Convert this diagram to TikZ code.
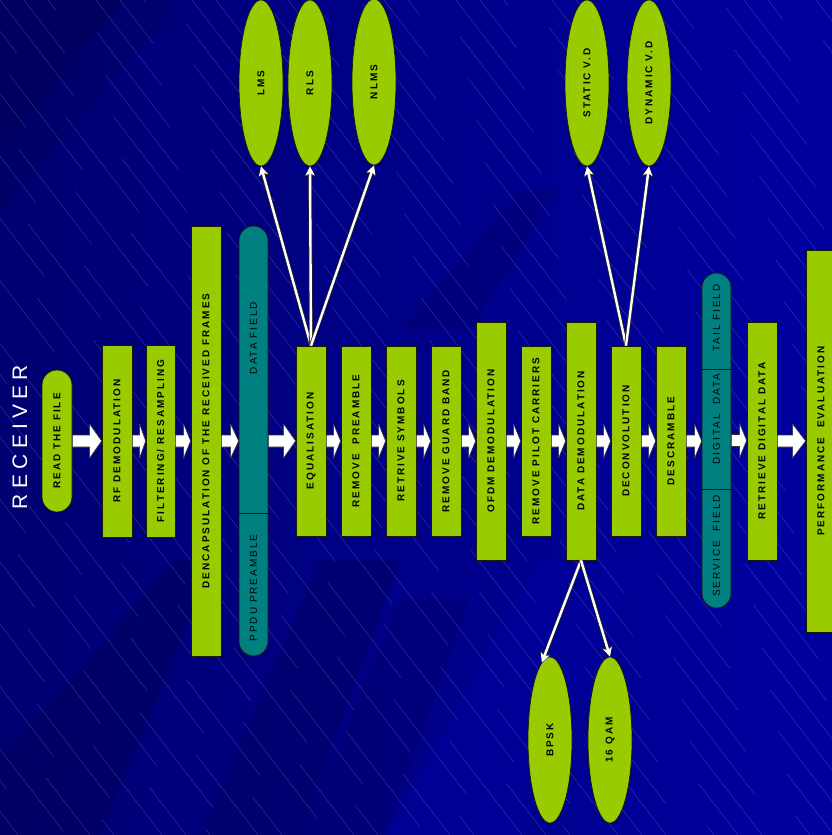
\documentclass[tikz,border=0pt]{standalone}
\usepackage{graphicx}
\usepackage{fontspec}
\setmainfont{Liberation Sans}
\newfontfamily\lsp[LetterSpace=20]{Liberation Sans}
\newfontfamily\lspbig[LetterSpace=25]{Liberation Sans}
\usetikzlibrary{shapes.geometric,arrows.meta,calc}
\definecolor{bgbase}{HTML}{000084}
\definecolor{bgdark}{HTML}{00005C}
\definecolor{bglight}{HTML}{0000A4}
\definecolor{bgline}{HTML}{8C96D2}
\definecolor{lgreen}{HTML}{99CC00}
\definecolor{tealc}{HTML}{008080}
\definecolor{edge}{HTML}{1A1A00}
\tikzset{
  x=1pt, y=-1pt,
  lbl/.style={font=\lsp\bfseries\fontsize{10}{12}\selectfont, text=black},
  box/.style={draw=edge, line width=0.7pt, fill=lgreen, inner sep=0pt, minimum width=30pt, lbl},
  pill/.style={box, rounded corners=15pt},
  tealpill/.style={draw=edge, line width=0.7pt, fill=tealc, inner sep=0pt, minimum width=29pt, rounded corners=14.5pt},
  teallbl/.style={font=\lsp\fontsize{10}{12}\selectfont, text=black, inner sep=0pt},
  ell/.style={ellipse, draw=edge, line width=0.7pt, fill=lgreen, inner sep=0pt, minimum width=44pt, minimum height=166pt, lbl},
  blockarrow/.style={fill=white, draw=black!80, line width=0.6pt, line join=miter},
  conn/.style={draw=white, line width=2.4pt, -{Stealth[length=9pt,width=9pt,inset=2pt]},
    preaction={draw=black!85, line width=4pt, -{Stealth[length=10.5pt,width=11.5pt,inset=2pt]}}},
  bgl/.style={draw=bgline, line width=0.45pt, opacity=0.35}
}
\newcommand\blockarr[3]{%
  \draw[blockarrow] let \p1=(#1.east), \p2=(#2.west) in
   (\x1,\y1+6) -- (\x2-#3,\y1+6) -- (\x2-#3,\y1+17) -- (\x2,\y1) --
   (\x2-#3,\y1-17) -- (\x2-#3,\y1-6) -- (\x1,\y1-6) -- cycle;}
\begin{document}
\begin{tikzpicture}
\clip (0,0) rectangle (832,835);
% ---------- background ----------
\fill[bgbase] (0,0) rectangle (832,835);
\shade[left color=bgdark!50!bgbase, right color=bglight, opacity=0.9] (0,0) rectangle (832,835);
\fill[bgdark, opacity=0.8] (0,0) -- (125,0) -- (0,150) -- cycle;
\fill[bgdark, opacity=0.35] (125,0) -- (180,0) -- (0,215) -- (0,150) -- cycle;
\fill[bgdark, opacity=0.55] (0,835) -- (100,835) -- (215,560) -- (175,560) -- (0,760) -- cycle;
\fill[bgdark, opacity=0.45] (200,835) -- (300,835) -- (400,560) -- (320,560) -- cycle;
\fill[bgdark, opacity=0.3] (300,835) -- (385,835) -- (470,600) -- (400,600) -- cycle;
\fill[bgdark, opacity=0.3] (400,330) -- (470,330) -- (560,190) -- (520,190) -- cycle;
\fill[bglight, opacity=0.4] (385,835) -- (520,835) -- (640,560) -- (540,560) -- cycle;
\foreach \i in {-28,...,35} {
  \pgfmathsetmacro\ph{mod(abs(\i*53),200)}
  \draw[bgl, dash pattern=on 120pt off 80pt, dash phase=\ph pt] (\i*24,0) -- ++(642,835);
}
% ---------- title ----------
\node[text=white, inner sep=0pt, font=\lspbig\fontsize{21}{24}\selectfont] (title) at (20,437) {\rotatebox{90}{RECEIVER}};
% ---------- main chain ----------
\node[pill, minimum height=142pt] (read) at (57,441) {\rotatebox{90}{READ THE FILE}};
\node[box, minimum height=192pt] (rf) at (117,441) {\rotatebox{90}{RF DEMODULATION}};
\node[box, minimum width=29pt, minimum height=192pt] (filt) at (160.5,441) {\rotatebox{90}{FILTERING/ RESAMPLING}};
\node[box, minimum height=430pt] (dencap) at (206,441) {\rotatebox{90}{DENCAPSULATION OF THE RECEIVED FRAMES}};
\node[tealpill, minimum height=430pt] (teal1) at (253.5,441) {};
\draw[draw=edge, line width=0.7pt] (teal1.west |- 0,513) coordinate (t1a) -- (teal1.east |- 0,513) coordinate (t1b);
\node[teallbl] (datafield) at (253.5,338) {\rotatebox{90}{DATA FIELD}};
\node[teallbl] (ppdu) at (253.5,588) {\rotatebox{90}{PPDU PREAMBLE}};
\node[box, minimum height=190pt] (equ) at (311,441) {\rotatebox{90}{EQUALISATION}};
\node[box, minimum height=190pt] (rmpre) at (356,441) {\rotatebox{90}{REMOVE\ \ PREAMBLE}};
\node[box, minimum height=190pt] (retr) at (401,441) {\rotatebox{90}{RETRIVE SYMBOLS}};
\node[box, minimum height=190pt] (rmgb) at (446,441) {\rotatebox{90}{REMOVE GUARD BAND}};
\node[box, minimum height=238pt] (ofdm) at (491,441) {\rotatebox{90}{OFDM DEMODULATION}};
\node[box, minimum height=190pt] (rmpil) at (536,441) {\rotatebox{90}{REMOVE PILOT CARRIERS}};
\node[box, minimum height=238pt] (ddemod) at (581,441) {\rotatebox{90}{DATA DEMODULATION}};
\node[box, minimum height=190pt] (deconv) at (626,441) {\rotatebox{90}{DECONVOLUTION}};
\node[box, minimum height=190pt] (descr) at (671,441) {\rotatebox{90}{DESCRAMBLE}};
\node[tealpill, minimum height=335pt] (teal2) at (716.5,440.5) {};
\draw[draw=edge, line width=0.7pt] (teal2.west |- 0,369) coordinate (t2a) -- (teal2.east |- 0,369) coordinate (t2b);
\draw[draw=edge, line width=0.7pt] (teal2.west |- 0,489) coordinate (t2c) -- (teal2.east |- 0,489) coordinate (t2d);
\node[teallbl] (tail) at (716.5,318) {\rotatebox{90}{TAIL FIELD}};
\node[teallbl] (digdata) at (716.5,419) {\rotatebox{90}{DIGITAL\ \ DATA}};
\node[teallbl] (service) at (716.5,546) {\rotatebox{90}{SERVICE\ \ FIELD}};
\node[box, minimum height=238pt] (retdig) at (762,441) {\rotatebox{90}{RETRIEVE DIGITAL DATA}};
\node[box, minimum height=382pt] (perf) at (821,441) {\rotatebox{90}{PERFORMANCE\ \ EVALUATION}};
% ---------- block arrows ----------
\blockarr{read}{rf}{12}
\blockarr{rf}{filt}{6}
\blockarr{filt}{dencap}{7}
\blockarr{dencap}{teal1}{8}
\blockarr{teal1}{equ}{12}
\blockarr{equ}{rmpre}{7}
\blockarr{rmpre}{retr}{7}
\blockarr{retr}{rmgb}{7}
\blockarr{rmgb}{ofdm}{7}
\blockarr{ofdm}{rmpil}{7}
\blockarr{rmpil}{ddemod}{7}
\blockarr{ddemod}{deconv}{7}
\blockarr{deconv}{descr}{7}
\blockarr{descr}{teal2}{7}
\blockarr{teal2}{retdig}{7}
\blockarr{retdig}{perf}{13}
% ---------- ellipses ----------
\node[ell] (lms) at (261,83) {\rotatebox{90}{LMS}};
\node[ell] (rls) at (310,83) {\rotatebox{90}{RLS}};
\node[ell] (nlms) at (374,82) {\rotatebox{90}{NLMS}};
\node[ell] (static) at (587,83) {\rotatebox{90}{STATIC V.D}};
\node[ell] (dyn) at (649,83) {\rotatebox{90}{DYNAMIC V.D}};
\node[ell] (bpsk) at (550,740) {\rotatebox{90}{BPSK}};
\node[ell] (qam) at (610,740) {\rotatebox{90}{16 QAM}};
% ---------- connectors ----------
\draw[conn] (equ.north) -- (lms.south);
\draw[conn] (equ.north) -- (rls.south);
\draw[conn] (equ.north) -- (nlms.south);
\draw[conn] (deconv.north) -- (static.south);
\draw[conn] (deconv.north) -- (dyn.south);
\draw[conn] (ddemod.south) -- (bpsk.96);
\draw[conn] (ddemod.south) -- (qam.north);
\end{tikzpicture}
\end{document}
